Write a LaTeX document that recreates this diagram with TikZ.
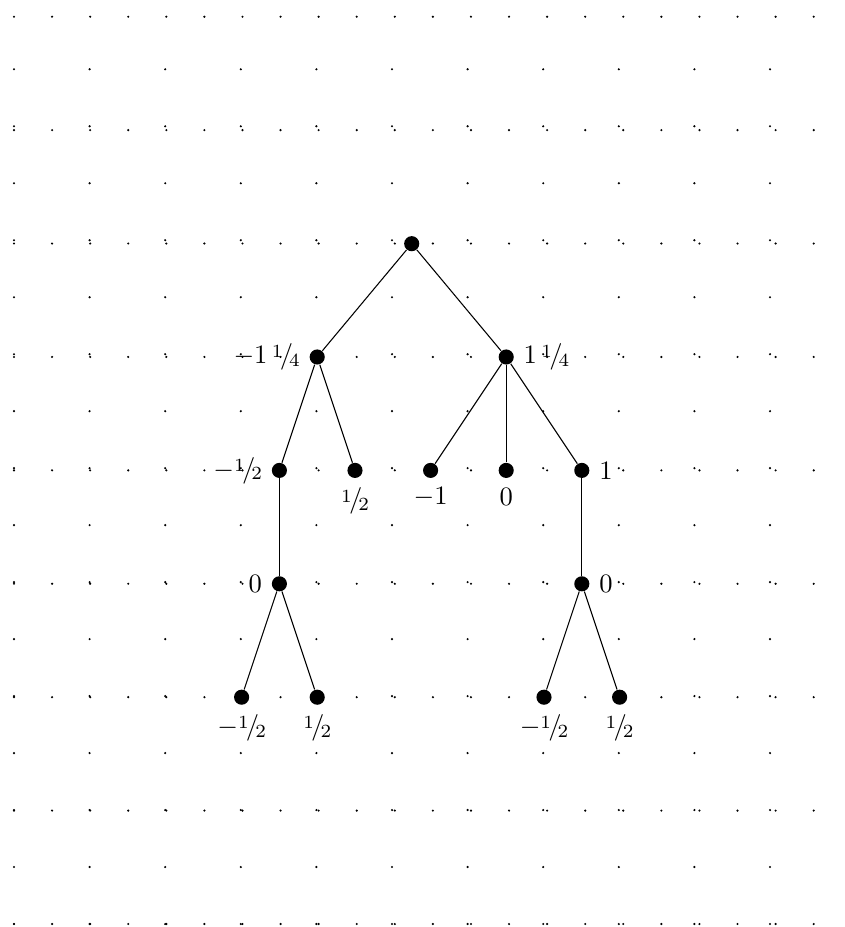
\documentclass[tikz,border=0pt]{standalone}
\newcommand{\nf}[2]{\raisebox{.5ex}{\scriptsize #1}\kern-.1em/\kern-.15em\raisebox{-.25ex}{\scriptsize #2}}
\begin{document}
\begin{tikzpicture}[x={(0.013228cm,0)}, y={(0,-0.013228cm)},
  treenode/.style={circle, fill=black, inner sep=0pt, minimum size=0.2cm},
  griddot/.style={fill=black},
  edge/.style={line width=0.4pt}]
\useasboundingbox (0,0) rectangle (844,927);
% fine grid
\foreach \i in {0,...,21}
  \foreach \k in {0,...,8}
    \fill[griddot] ({14+38.08*\i},{924-113.41*\k}) circle (0.45pt);
% coarse grid
\foreach \j in {0,...,10}
  \foreach \m in {0,...,15}
    \fill[griddot] ({14+75.6*\j},{924-56.98*\m}) circle (0.45pt);
% tree
\node[treenode] (r) at (411.7,243.7) {};
\node[treenode, label=left:{$-1$\,\nf14}] (a) at (317.2,357) {};
\node[treenode, label=right:{1\,\nf14}] (b) at (506.2,357) {};
\node[treenode, label=left:{$-$\nf12}] (c1) at (279.4,470.4) {};
\node[treenode, label=below:{\nf12}] (c2) at (355,470.4) {};
\node[treenode, label=below:{$-1$}] (c3) at (430.6,470.4) {};
\node[treenode, label=below:{0}] (c4) at (506.2,470.4) {};
\node[treenode, label=right:{1}] (c5) at (581.8,470.4) {};
\node[treenode, label=left:{0}] (d1) at (279.4,583.8) {};
\node[treenode, label=right:{0}] (d2) at (581.8,583.8) {};
\node[treenode, label=below:{$-$\nf12}] (e1) at (241.6,697.2) {};
\node[treenode, label=below:{\nf12}] (e2) at (317.2,697.2) {};
\node[treenode, label=below:{$-$\nf12}] (e3) at (544,697.2) {};
\node[treenode, label=below:{\nf12}] (e4) at (619.6,697.2) {};
\draw[edge] (r) -- (a);
\draw[edge] (r) -- (b);
\draw[edge] (a) -- (c1);
\draw[edge] (a) -- (c2);
\draw[edge] (b) -- (c3);
\draw[edge] (b) -- (c4);
\draw[edge] (b) -- (c5);
\draw[edge] (c1) -- (d1);
\draw[edge] (c5) -- (d2);
\draw[edge] (d1) -- (e1);
\draw[edge] (d1) -- (e2);
\draw[edge] (d2) -- (e3);
\draw[edge] (d2) -- (e4);
\end{tikzpicture}
\end{document}
